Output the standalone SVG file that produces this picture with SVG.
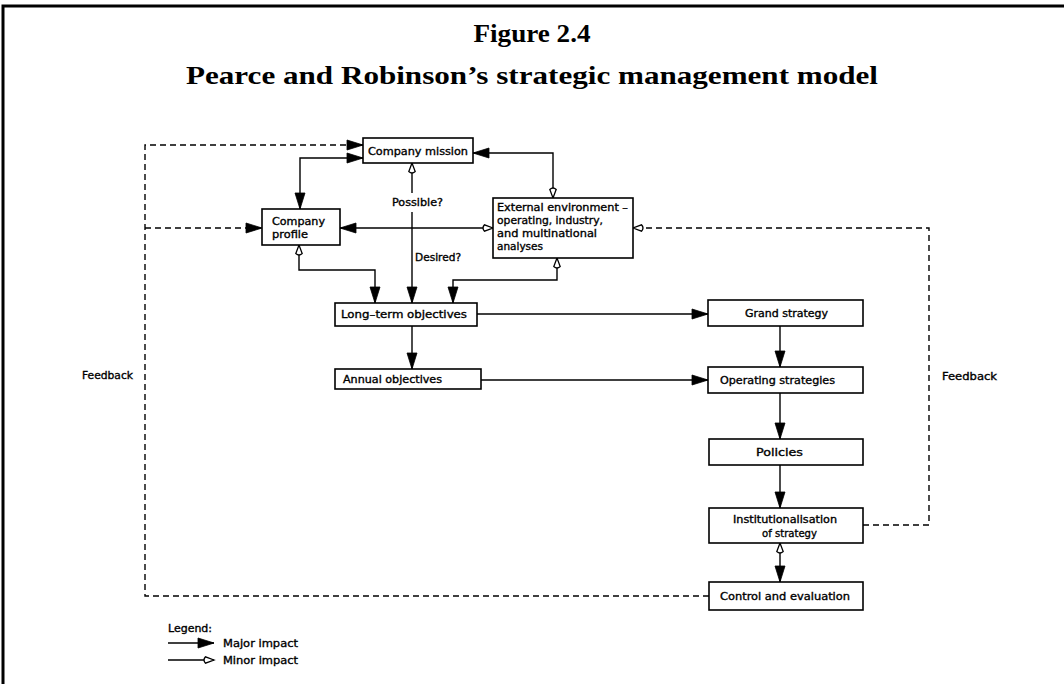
<svg xmlns="http://www.w3.org/2000/svg" width="1064" height="684" viewBox="0 0 1064 684">
  <style>
    .frame { stroke: #000; stroke-width: 3; fill: none; }
    .title { font-family: "Liberation Serif", "Times New Roman", serif; font-weight: bold; fill: #000; text-anchor: middle; }
    .box { fill: #fff; stroke: #000; stroke-width: 1.6; }
    .lbl { font-family: "DejaVu Sans", "Liberation Sans", sans-serif; font-size: 10.5px; fill: #000; stroke: #000; stroke-width: 0.35; }
    .mid { text-anchor: middle; }
    .solid { fill: none; stroke: #000; stroke-width: 1.4; }
    .dash { fill: none; stroke: #000; stroke-width: 1.4; stroke-dasharray: 6 4; }
  </style>
  <defs>
    <!-- major impact: long filled head -->
    <marker id="major" markerUnits="userSpaceOnUse" markerWidth="18" markerHeight="11" refX="16" refY="5" orient="auto-start-reverse" overflow="visible">
      <path d="M0,0 L16,5 L0,10 Z" fill="#000" stroke="#000" stroke-width="0.8" stroke-dasharray="none"/>
    </marker>
    <!-- minor impact: small hollow head -->
    <marker id="minor" markerUnits="userSpaceOnUse" markerWidth="12" markerHeight="9" refX="11" refY="3.5" orient="auto-start-reverse" overflow="visible">
      <path d="M11,3.5 L2.5,0.3 Q-0.5,3.5 2.5,6.7 Z" fill="#fff" stroke="#000" stroke-width="1.3" stroke-dasharray="none"/>
    </marker>
  </defs>

  <!-- page frame -->
  <path class="frame" d="M3,684 L3,6 L1064,6"/>

  <!-- headings -->
  <text class="title" x="532" y="42" font-size="25" textLength="117" lengthAdjust="spacingAndGlyphs">Figure 2.4</text>
  <text class="title" x="532" y="84" font-size="26" textLength="692" lengthAdjust="spacingAndGlyphs">Pearce and Robinson’s strategic management model</text>

  <!-- connectors -->
  <g id="connectors">
    <!-- feedback loop on the left -->
    <path class="dash" d="M709,596 L145,596 L145,145 L363,145" marker-end="url(#major)"/>
    <path class="dash" d="M145,228 L262,228" marker-end="url(#major)"/>
    <!-- feedback loop on the right -->
    <path class="dash" d="M863,525 L929,525 L929,228 L633,228" marker-end="url(#minor)"/>

    <!-- mission <-> profile -->
    <path class="solid" d="M363,158 L300,158 L300,209" marker-start="url(#major)" marker-end="url(#major)"/>
    <!-- mission <-> external environment -->
    <path class="solid" d="M473,153 L553,153 L553,198" marker-start="url(#major)" marker-end="url(#minor)"/>
    <!-- profile <-> external environment -->
    <path class="solid" d="M340,228 L493,228" marker-start="url(#major)" marker-end="url(#minor)"/>
    <!-- mission <-> long-term objectives (Possible? / Desired?) -->
    <path class="solid" d="M412,193 L412,163" marker-end="url(#minor)"/>
    <path class="solid" d="M412,212 L412,303" marker-end="url(#major)"/>
    <!-- profile <-> long-term objectives -->
    <path class="solid" d="M299,245 L299,270 L375,270 L375,303" marker-start="url(#minor)" marker-end="url(#major)"/>
    <!-- external environment <-> long-term objectives -->
    <path class="solid" d="M557,258 L557,280 L453,280 L453,303" marker-start="url(#minor)" marker-end="url(#major)"/>

    <!-- objectives into strategy -->
    <path class="solid" d="M477,314 L708,314" marker-end="url(#major)"/>
    <path class="solid" d="M412,326 L412,369" marker-end="url(#major)"/>
    <path class="solid" d="M481,380 L708,380" marker-end="url(#major)"/>

    <!-- implementation chain -->
    <path class="solid" d="M780,326 L780,367" marker-end="url(#major)"/>
    <path class="solid" d="M780,393 L780,439" marker-end="url(#major)"/>
    <path class="solid" d="M780,465 L780,508" marker-end="url(#major)"/>
    <path class="solid" d="M780,543 L780,582" marker-start="url(#minor)" marker-end="url(#major)"/>
  </g>

  <!-- nodes -->
  <g id="company-mission">
    <rect class="box" x="363" y="138" width="110" height="25"/>
    <text class="lbl mid" x="418" y="155" textLength="100" lengthAdjust="spacingAndGlyphs">Company mission</text>
  </g>
  <g id="company-profile">
    <rect class="box" x="262" y="209" width="78" height="36"/>
    <text class="lbl" x="272" y="225" textLength="53" lengthAdjust="spacingAndGlyphs">Company</text>
    <text class="lbl" x="272" y="238" textLength="36" lengthAdjust="spacingAndGlyphs">profile</text>
  </g>
  <g id="external-environment">
    <rect class="box" x="493" y="198" width="140" height="60"/>
    <text class="lbl" x="497" y="211" textLength="131" lengthAdjust="spacingAndGlyphs">External environment –</text>
    <text class="lbl" x="497" y="224" textLength="106" lengthAdjust="spacingAndGlyphs">operating, industry,</text>
    <text class="lbl" x="497" y="237" textLength="100" lengthAdjust="spacingAndGlyphs">and multinational</text>
    <text class="lbl" x="497" y="250" textLength="46" lengthAdjust="spacingAndGlyphs">analyses</text>
  </g>
  <g id="long-term-objectives">
    <rect class="box" x="335" y="303" width="142" height="23"/>
    <text class="lbl" x="341" y="318" textLength="126" lengthAdjust="spacingAndGlyphs">Long–term objectives</text>
  </g>
  <g id="annual-objectives">
    <rect class="box" x="335" y="369" width="146" height="20"/>
    <text class="lbl" x="343" y="383" textLength="99" lengthAdjust="spacingAndGlyphs">Annual objectives</text>
  </g>
  <g id="grand-strategy">
    <rect class="box" x="708" y="300" width="155" height="26"/>
    <text class="lbl" x="745" y="317" textLength="83" lengthAdjust="spacingAndGlyphs">Grand strategy</text>
  </g>
  <g id="operating-strategies">
    <rect class="box" x="708" y="367" width="155" height="26"/>
    <text class="lbl" x="720" y="384" textLength="115" lengthAdjust="spacingAndGlyphs">Operating strategies</text>
  </g>
  <g id="policies">
    <rect class="box" x="709" y="439" width="154" height="26"/>
    <text class="lbl" x="756" y="456" textLength="47" lengthAdjust="spacingAndGlyphs">Policies</text>
  </g>
  <g id="institutionalisation">
    <rect class="box" x="709" y="508" width="154" height="35"/>
    <text class="lbl" x="733" y="523" textLength="104" lengthAdjust="spacingAndGlyphs">Institutionalisation</text>
    <text class="lbl" x="762" y="537" textLength="55" lengthAdjust="spacingAndGlyphs">of strategy</text>
  </g>
  <g id="control-evaluation">
    <rect class="box" x="709" y="582" width="154" height="28"/>
    <text class="lbl" x="720" y="600" textLength="130" lengthAdjust="spacingAndGlyphs">Control and evaluation</text>
  </g>

  <!-- connector labels -->
  <text class="lbl" x="392" y="206" textLength="51" lengthAdjust="spacingAndGlyphs">Possible?</text>
  <text class="lbl" x="415" y="261" textLength="46" lengthAdjust="spacingAndGlyphs">Desired?</text>
  <text class="lbl" x="82" y="379" textLength="51" lengthAdjust="spacingAndGlyphs">Feedback</text>
  <text class="lbl" x="942" y="380" textLength="55" lengthAdjust="spacingAndGlyphs">Feedback</text>

  <!-- legend -->
  <g id="legend">
    <text class="lbl" x="168" y="632" textLength="44" lengthAdjust="spacingAndGlyphs">Legend:</text>
    <path class="solid" d="M168,643 L214,643" marker-end="url(#major)"/>
    <text class="lbl" x="223" y="647" textLength="75" lengthAdjust="spacingAndGlyphs">Major impact</text>
    <path class="solid" d="M168,660 L214,660" marker-end="url(#minor)"/>
    <text class="lbl" x="223" y="664" textLength="75" lengthAdjust="spacingAndGlyphs">Minor impact</text>
  </g>
</svg>
